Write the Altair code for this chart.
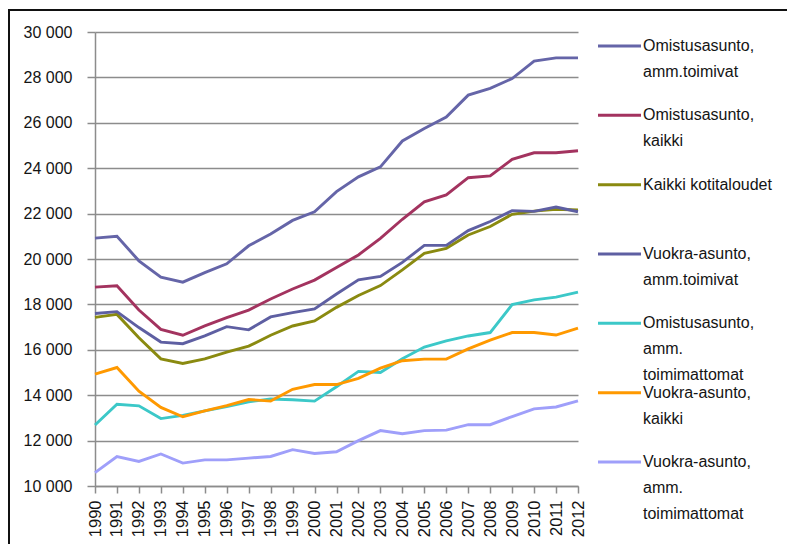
import altair as alt
import pandas as pd

years = list(range(1990, 2013))

series_names = [
    "Omistusasunto, amm.toimivat",
    "Omistusasunto, kaikki",
    "Kaikki kotitaloudet",
    "Vuokra-asunto, amm.toimivat",
    "Omistusasunto, amm. toimimattomat",
    "Vuokra-asunto, kaikki",
    "Vuokra-asunto, amm. toimimattomat",
]
legend_labels = [
    "Omistusasunto,\namm.toimivat",
    "Omistusasunto,\nkaikki",
    "Kaikki kotitaloudet",
    "Vuokra-asunto,\namm.toimivat",
    "Omistusasunto,\namm.\ntoimimattomat",
    "Vuokra-asunto,\nkaikki",
    "Vuokra-asunto,\namm.\ntoimimattomat",
]
colors = ["#6565A8", "#A3335F", "#8A8A10", "#5E5FA2", "#3CC8C8", "#FF9900", "#9F9FFA"]

omistus_toimivat = [20920, 21000, 19920, 19200, 18980, 19400, 19790, 20580, 21100, 21700, 22080,
                    22970, 23620, 24060, 25200, 25750, 26250, 27220, 27520, 27950, 28720, 28860, 28860]
omistus_kaikki = [18760, 18820, 17750, 16900, 16640, 17050, 17420, 17750, 18240, 18680, 19070,
                  19630, 20180, 20910, 21750, 22520, 22820, 23580, 23660, 24390, 24680, 24680, 24770]
kaikki_kotitaloudet = [17430, 17560, 16530, 15600, 15400, 15600, 15900, 16160, 16640, 17050, 17270,
                       17870, 18390, 18830, 19520, 20250, 20470, 21060, 21430, 21970, 22110, 22190, 22160]
vuokra_toimivat = [17600, 17680, 16980, 16340, 16270, 16610, 17020, 16880, 17450, 17640, 17800,
                   18460, 19080, 19230, 19850, 20600, 20600, 21250, 21650, 22130, 22100, 22290, 22080]
omistus_toimimattomat = [12690, 13600, 13530, 12970, 13110, 13310, 13500, 13710, 13830, 13800, 13740,
                         14370, 15050, 15000, 15610, 16120, 16390, 16610, 16760, 17990, 18200, 18320, 18540]
vuokra_kaikki = [14930, 15220, 14180, 13460, 13050, 13310, 13540, 13810, 13740, 14260, 14470,
                 14470, 14740, 15190, 15520, 15590, 15590, 16040, 16430, 16760, 16760, 16650, 16950]
vuokra_toimimattomat = [10590, 11300, 11080, 11410, 11010, 11150, 11150, 11230, 11300, 11600, 11430,
                        11510, 12000, 12440, 12300, 12440, 12460, 12700, 12700, 13060, 13400, 13480, 13750]

all_series = [omistus_toimivat, omistus_kaikki, kaikki_kotitaloudet, vuokra_toimivat,
              omistus_toimimattomat, vuokra_kaikki, vuokra_toimimattomat]

y_ticks = list(range(10000, 30001, 2000))

rows = []
for i, (name, vals) in enumerate(zip(series_names, all_series)):
    for yr, v in zip(years, vals):
        rows.append({"series": name, "year": yr, "value": v, "order": i})
df = pd.DataFrame(rows)

legend_df = pd.DataFrame({"series": series_names, "label": legend_labels,
                          "idx": list(range(len(series_names)))})

FONT = "Liberation Sans, Arial, sans-serif"
TXT = "#141414"

color_scale = alt.Scale(domain=series_names, range=colors)

lines = alt.Chart(df).mark_line(strokeWidth=2.9).encode(
    x=alt.X("year:Q",
            scale=alt.Scale(domain=[years[0], years[-1]], nice=False, zero=False),
            axis=alt.Axis(values=years, format="d", labelAngle=270, grid=False,
                          tickSize=7, labelPadding=7, labelFontSize=16.5, title=None)),
    y=alt.Y("value:Q",
            scale=alt.Scale(domain=[y_ticks[0], y_ticks[-1]], nice=False, zero=False),
            axis=alt.Axis(values=y_ticks, grid=True, tickSize=8, labelPadding=15, title=None,
                          labelExpr="replace(format(datum.value, ','), ',', ' ')")),
    color=alt.Color("series:N", scale=color_scale, legend=None),
    detail="order:O",
)

# legend entries placed along a linear scale of their index (top = first entry)
legend_y = alt.Y("idx:Q", scale=alt.Scale(domain=[0, len(series_names) - 1],
                                          range=[14, 430], nice=False, zero=False),
                 axis=None)

legend_rules = alt.Chart(legend_df).mark_rule(strokeWidth=3).encode(
    y=legend_y,
    x=alt.value(503),
    x2=alt.value(546),
    color=alt.Color("series:N", scale=color_scale, legend=None),
)

legend_text = alt.Chart(legend_df).mark_text(
    align="left", baseline="top", dy=-8, lineBreak="\n", lineHeight=26,
    font=FONT, fontSize=16, color=TXT,
).encode(
    y=legend_y,
    x=alt.value(548),
    text="label:N",
)

legend = alt.layer(legend_rules, legend_text)

border_df = pd.DataFrame({"b": [0]})
border = alt.Chart(border_df).mark_rect(filled=False, stroke="#111111", strokeWidth=2).encode(
    x=alt.value(-86), x2=alt.value(740), y=alt.value(-22), y2=alt.value(560),
)

chart = alt.layer(lines, legend, border).resolve_scale(
    y="independent"
).properties(
    width=483,
    height=454,
    autosize=alt.AutoSizeParams(type="none"),
    padding={"left": 87, "top": 24, "right": 209, "bottom": 58},
    background="white",
).configure_view(
    strokeOpacity=0,
).configure_axis(
    labelFont=FONT,
    labelFontSize=16,
    labelColor=TXT,
    domainColor="#8c8c8c",
    domainWidth=1.5,
    tickColor="#8c8c8c",
    tickWidth=1.5,
    gridColor="#8c8c8c",
    gridWidth=1.3,
)

chart.save("out.html", embed_options={"renderer": "svg", "actions": False})
